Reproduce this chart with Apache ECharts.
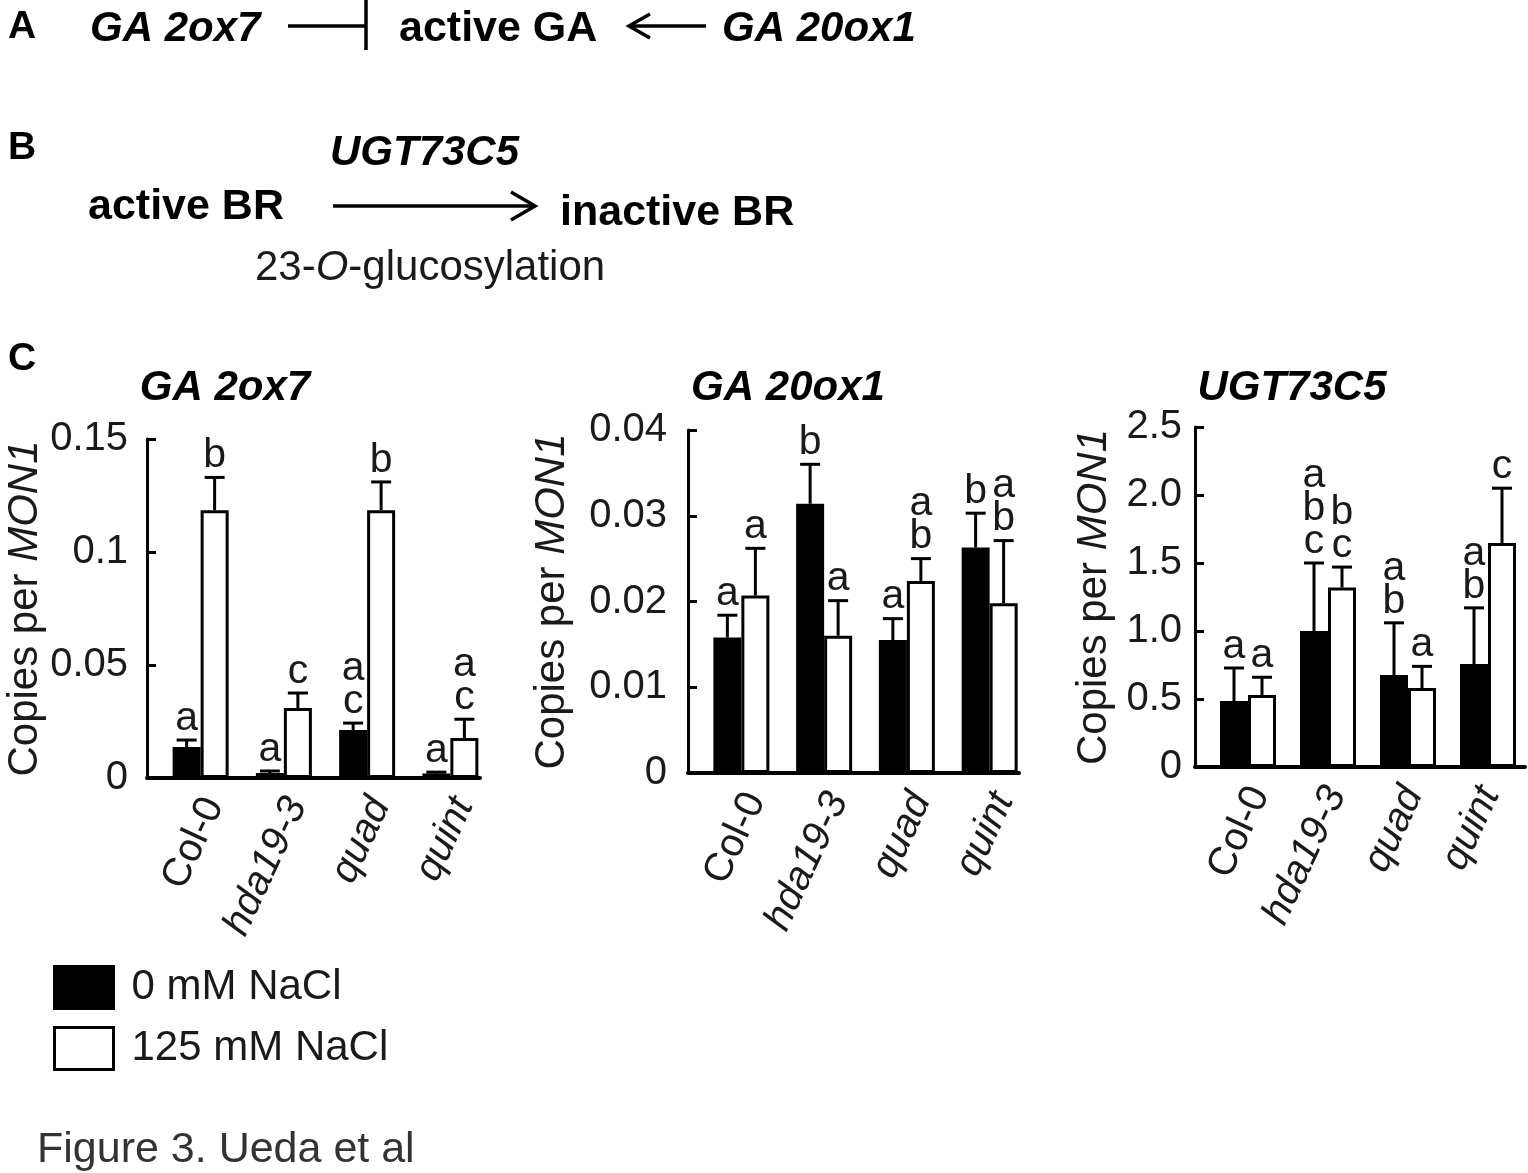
<!DOCTYPE html>
<html>
<head>
<meta charset="utf-8">
<script src="https://cdn.jsdelivr.net/npm/echarts@6/dist/echarts.min.js"></script>
<style>
html,body{margin:0;padding:0;background:#fff;}
#c{width:1528px;height:1173px;}
</style>
</head>
<body>
<div id="c"></div>
<script>
// ---------- data ----------
const categories = ['Col-0', 'hda19-3', 'quad', 'quint'];
const seriesNames = ['0 mM NaCl', '125 mM NaCl'];
const geneNames = ['GA 2ox7', 'GA 20ox1', 'UGT73C5'];

const ga2ox7_0 = [0.0137, 0.0022, 0.0212, 0.0020];
const ga2ox7_0_err = [0.0031, 0.0009, 0.0031, 0.0006];
const ga2ox7_0_letters = ['a', 'a', 'a\nc', 'a'];
const ga2ox7_125 = [0.1185, 0.0310, 0.1185, 0.0177];
const ga2ox7_125_err = [0.0145, 0.0066, 0.0125, 0.0083];
const ga2ox7_125_letters = ['b', 'c', 'b', 'a\nc'];

const ga20ox1_0 = [0.0158, 0.0314, 0.0155, 0.0263];
const ga20ox1_0_err = [0.0026, 0.0046, 0.0025, 0.0040];
const ga20ox1_0_letters = ['a', 'b', 'a', 'b'];
const ga20ox1_125 = [0.0207, 0.0160, 0.0224, 0.0198];
const ga20ox1_125_err = [0.0055, 0.0041, 0.0026, 0.0073];
const ga20ox1_125_letters = ['a', 'a', 'a\nb', 'a\nb'];

const ugt_0 = [0.485, 1.00, 0.676, 0.757];
const ugt_0_err = [0.243, 0.50, 0.384, 0.413];
const ugt_0_letters = ['a', 'a\nb\nc', 'a\nb', 'a\nb'];
const ugt_125 = [0.53, 1.32, 0.58, 1.647];
const ugt_125_err = [0.13, 0.15, 0.16, 0.403];
const ugt_125_letters = ['a', 'b\nc', 'a', 'c'];

const yTicks = [
  {max: 0.15, interval: 0.05},
  {max: 0.04, interval: 0.01},
  {max: 2.5, interval: 0.5}
];

// ---------- layout ----------
const FF = '"Liberation Sans", Arial, Helvetica, sans-serif';
const TXT = '#1a1a1a';
const layouts = [
  {left:147, top:439, width:333, height:339, shift:12, labelShift:25, labelMargin:19, nameGap:85, titleX:225},
  {left:688, top:430, width:331, height:343, shift:12, labelShift:26, labelMargin:21, nameGap:115, titleX:788},
  {left:1195, top:427, width:330, height:340, shift:13, labelShift:26, labelMargin:13, nameGap:80, titleX:1292}
];
const charts = [
  {v0: ga2ox7_0, e0: ga2ox7_0_err, l0: ga2ox7_0_letters, v1: ga2ox7_125, e1: ga2ox7_125_err, l1: ga2ox7_125_letters},
  {v0: ga20ox1_0, e0: ga20ox1_0_err, l0: ga20ox1_0_letters, v1: ga20ox1_125, e1: ga20ox1_125_err, l1: ga20ox1_125_letters},
  {v0: ugt_0, e0: ugt_0_err, l0: ugt_0_letters, v1: ugt_125, e1: ugt_125_err, l1: ugt_125_letters}
];
const BAR_W = 28;

const grid = [], xAxis = [], yAxis = [], series = [];

function errSeries(gi, vals, errs, letters, offset) {
  return {
    type: 'custom',
    xAxisIndex: gi, yAxisIndex: gi,
    z: 5,
    silent: true,
    encode: {x: 0, y: 1},
    data: vals.map((v, i) => [i, v, errs[i]]),
    renderItem: function (params, api) {
      const i = api.value(0), v = api.value(1), e = api.value(2);
      const base = api.coord([i, v]);
      const top = api.coord([i, v + e]);
      const x = base[0] + offset;
      const cap = 10;
      return {
        type: 'group',
        children: [
          {type: 'line', shape: {x1: x, y1: base[1], x2: x, y2: top[1]}, style: {stroke: '#000', lineWidth: 3}},
          {type: 'line', shape: {x1: x - cap, y1: top[1], x2: x + cap, y2: top[1]}, style: {stroke: '#000', lineWidth: 3}},
          {type: 'text', x: x, y: top[1] - 5,
           style: {text: letters[params.dataIndex], align: 'center', verticalAlign: 'bottom',
                   fontSize: 41, lineHeight: 33, fontFamily: FF, fill: TXT}}
        ]
      };
    }
  };
}

layouts.forEach((L, k) => {
  const ga = 3 * k, gb = 3 * k + 1, gc = 3 * k + 2;
  const T = yTicks[k];
  grid.push({left: L.left, top: L.top, width: L.width, height: L.height, containLabel: false});
  grid.push({left: L.left + L.shift, top: L.top, width: L.width, height: L.height, containLabel: false});
  grid.push({left: L.left + L.labelShift, top: L.top, width: L.width, height: L.height, containLabel: false});
  // axis grid
  xAxis.push({
    gridIndex: ga, type: 'category', data: categories,
    axisLine: {show: true, lineStyle: {color: '#000', width: 4}},
    axisTick: {show: false}, axisLabel: {show: false}, splitLine: {show: false}
  });
  yAxis.push({
    gridIndex: ga, type: 'value', min: 0, max: T.max, interval: T.interval,
    axisLine: {show: true, lineStyle: {color: '#000', width: 3}},
    axisTick: {show: true, inside: true, length: 9, lineStyle: {color: '#000', width: 3}},
    splitLine: {show: false},
    axisLabel: {
      margin: L.labelMargin, fontSize: 40, fontFamily: FF, color: TXT,
      formatter: k === 2 ? (v => v === 0 ? '0' : v.toFixed(1)) : null
    },
    name: 'Copies per {i|MON1}', nameLocation: 'middle', nameRotate: 90, nameGap: L.nameGap,
    nameTextStyle: {fontSize: 42, fontFamily: FF, color: TXT,
      rich: {i: {fontStyle: 'italic', fontSize: 42, fontFamily: FF, color: TXT}}}
  });
  // shifted data grid
  xAxis.push({
    gridIndex: gb, type: 'category', data: categories,
    axisLine: {show: false}, axisTick: {show: false}, splitLine: {show: false},
    axisLabel: {show: false}
  });
  yAxis.push({gridIndex: gb, type: 'value', min: 0, max: T.max, interval: T.interval, show: false});
  // label grid
  xAxis.push({
    gridIndex: gc, type: 'category', data: categories,
    axisLine: {show: false}, axisTick: {show: false}, splitLine: {show: false},
    axisLabel: {
      rotate: 65, margin: 22, fontSize: 40, fontFamily: FF, color: TXT, interval: 0,
      formatter: v => v === 'Col-0' ? v : '{i|' + v + '}',
      rich: {i: {fontStyle: 'italic', fontSize: 40, fontFamily: FF, color: TXT}}
    }
  });
  yAxis.push({gridIndex: gc, type: 'value', min: 0, max: T.max, interval: T.interval, show: false});

  const C = charts[k];
  series.push({
    name: seriesNames[0], type: 'bar', xAxisIndex: gb, yAxisIndex: gb,
    data: C.v0, barWidth: BAR_W, barGap: '0%', silent: true,
    itemStyle: {color: '#000', borderColor: '#000', borderWidth: 3}
  });
  series.push({
    name: seriesNames[1], type: 'bar', xAxisIndex: gb, yAxisIndex: gb,
    data: C.v1, barWidth: BAR_W, barGap: '0%', silent: true,
    itemStyle: {color: '#fff', borderColor: '#000', borderWidth: 3}
  });
  series.push(errSeries(gb, C.v0, C.e0, C.l0, -BAR_W / 2));
  series.push(errSeries(gb, C.v1, C.e1, C.l1, BAR_W / 2));
});

function txt(x, y, text, opts) {
  return {
    type: 'text', x: x, y: y, silent: true,
    style: Object.assign({text: text, fontFamily: FF, fontSize: 42, fill: '#000',
      align: 'left', verticalAlign: 'middle'}, opts || {})
  };
}
const BOLD = {fontWeight: 'bold', fontSize: 43};
const BI = {fontWeight: 'bold', fontStyle: 'italic', fontSize: 42};
const LW = 3.5;

const graphic = [
  // Panel A
  txt(8, 27, 'A', {fontWeight: 'bold', fontSize: 39}),
  txt(90, 29, 'GA 2ox7', BI),
  {type: 'line', shape: {x1: 288, y1: 26, x2: 366, y2: 26}, style: {stroke: '#000', lineWidth: LW}},
  {type: 'line', shape: {x1: 366, y1: 0, x2: 366, y2: 50}, style: {stroke: '#000', lineWidth: LW}},
  txt(399, 29, 'active GA', BOLD),
  {type: 'line', shape: {x1: 630, y1: 26, x2: 706, y2: 26}, style: {stroke: '#000', lineWidth: LW}},
  {type: 'polyline', shape: {points: [[650, 14], [629, 26], [650, 38]]}, style: {stroke: '#000', lineWidth: LW, fill: null}},
  txt(722, 29, 'GA 20ox1', BI),
  // Panel B
  txt(8, 148, 'B', {fontWeight: 'bold', fontSize: 39}),
  txt(330, 153, 'UGT73C5', BI),
  txt(88, 207, 'active BR', BOLD),
  {type: 'line', shape: {x1: 333, y1: 206, x2: 534, y2: 206}, style: {stroke: '#000', lineWidth: LW}},
  {type: 'polyline', shape: {points: [[511, 192], [535, 206], [511, 220]]}, style: {stroke: '#000', lineWidth: LW, fill: null}},
  txt(560, 213, 'inactive BR', BOLD),
  txt(255, 268, '23-{i|O}-glucosylation', {fill: TXT,
    rich: {i: {fontStyle: 'italic', fontSize: 42, fontFamily: FF, fill: TXT}}}),
  // Panel C
  txt(8, 359, 'C', {fontWeight: 'bold', fontSize: 39}),
  txt(layouts[0].titleX, 388, geneNames[0], Object.assign({align: 'center'}, BI)),
  txt(layouts[1].titleX, 388, geneNames[1], Object.assign({align: 'center'}, BI)),
  txt(layouts[2].titleX, 388, geneNames[2], Object.assign({align: 'center'}, BI)),
  // caption
  txt(37, 1150, 'Figure 3. Ueda et al', {fill: '#333', fontSize: 43})
];

const chart = echarts.init(document.getElementById('c'), null, {renderer: 'canvas'});
chart.setOption({
  animation: false,
  backgroundColor: '#fff',
  grid: grid, xAxis: xAxis, yAxis: yAxis, series: series,
  legend: {
    data: seriesNames, orient: 'vertical', left: 53, top: 965, padding: 0,
    itemWidth: 59, itemHeight: 42, itemGap: 16, icon: 'rect', selectedMode: false,
    itemStyle: {borderColor: '#000', borderWidth: 3},
    textStyle: {fontSize: 42, fontFamily: FF, color: TXT, padding: [0, 0, 0, 13]}
  },
  graphic: graphic
});
</script>
</body>
</html>
